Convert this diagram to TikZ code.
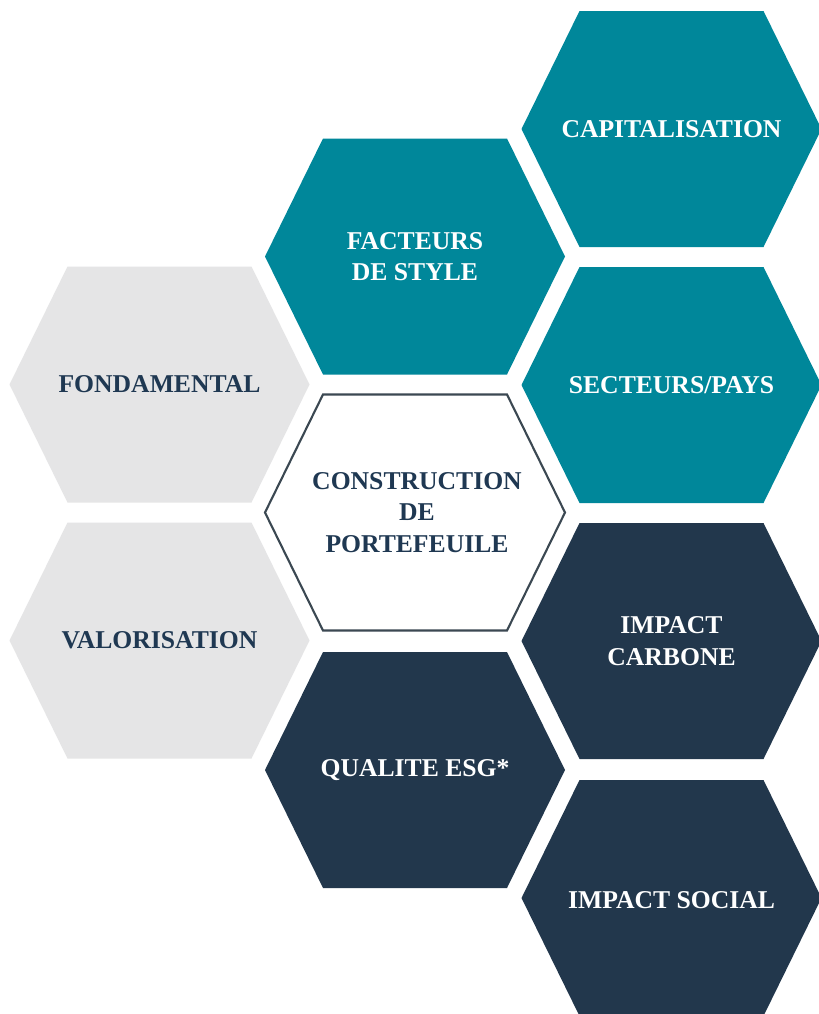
\documentclass[tikz,border=0pt]{standalone}
\usepackage{fontspec}
\setmainfont{Liberation Serif}
\definecolor{petrole}{HTML}{00879A}
\definecolor{marine}{HTML}{22374C}
\definecolor{perle}{HTML}{E5E5E6}
\definecolor{encre}{HTML}{1F3852}
\definecolor{contour}{HTML}{3B4852}
\tikzset{
  hexa/.pic={\path[pic actions] (-150,0)--(-92,118)--(92,118)--(150,0)--(92,-118)--(-92,-118)--cycle;},
  label/.style={align=center,font=\bfseries\fontsize{14.6}{18}\selectfont},
  blanc/.style={label,text=white},
  sombre/.style={label,text=encre}
}
\begin{document}
\begin{tikzpicture}[x=0.02cm,y=-0.02cm]
\useasboundingbox[fill=white] (0,0) rectangle (818,1014);
% left column
\pic[fill=perle] at (159.5,384.5) {hexa};
\pic[fill=perle] at (159.5,640.5) {hexa};
\node[sombre] (fond) at (159.5,384.5) {FONDAMENTAL};
\node[sombre] (valo) at (159.5,640.5) {VALORISATION};
% middle column
\pic[fill=petrole] at (415,256.5) {hexa};
\pic[fill=white,draw=contour,line width=1.2pt] at (415,512.5) {hexa};
\pic[fill=marine] at (415,770) {hexa};
\node[blanc] (style) at (415,256.5) {FACTEURS\\ DE STYLE};
\node[sombre] (constr) at (417,512.5) {CONSTRUCTION\\ DE\\ PORTEFEUILE};
\node[blanc] (esg) at (415,770) {QUALITE ESG*};
% right column
\pic[fill=petrole] at (671.5,129) {hexa};
\pic[fill=petrole] at (671.5,385) {hexa};
\pic[fill=marine] at (671.5,641) {hexa};
\pic[fill=marine] at (671.5,898) {hexa};
\node[blanc] (capi) at (671.5,129) {CAPITALISATION};
\node[blanc] (pays) at (671.5,385) {SECTEURS/PAYS};
\node[blanc] (carbone) at (671.5,641) {IMPACT\\ CARBONE};
\node[blanc] (social) at (671.5,900) {IMPACT SOCIAL};
\end{tikzpicture}
\end{document}
